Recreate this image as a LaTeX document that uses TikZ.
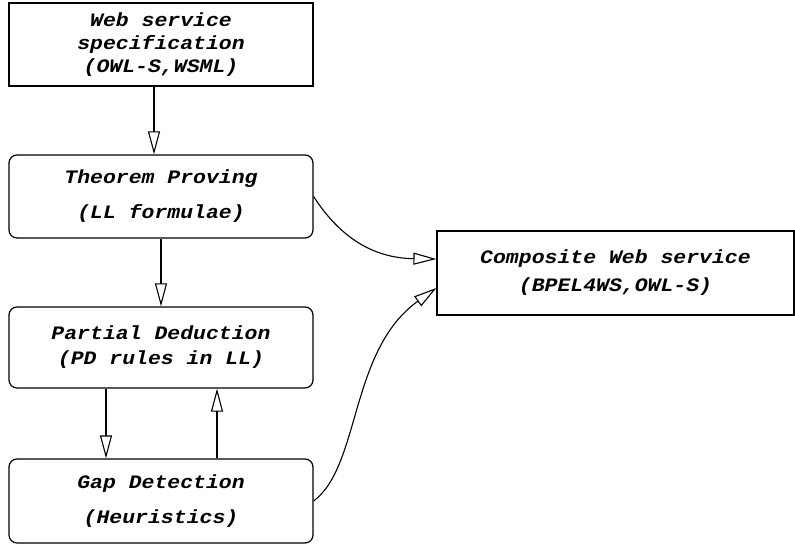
\documentclass[tikz,border=0pt]{standalone}
\usepackage{fontspec}
\newfontfamily\diafont[FakeStretch=1.13]{Liberation Mono}
\usetikzlibrary{arrows.meta}
\begin{document}
\begin{tikzpicture}[x={(1pt,0)},y={(0,-1pt)},
  box/.style={draw,line width=1.2pt,minimum width=304pt,minimum height=83pt,inner sep=0pt,align=center,
    font=\diafont\bfseries\itshape\fontsize{19}{23}\selectfont},
  rbox/.style={box,rounded corners=8pt},
  arr/.style={line width=1.1pt,-{Triangle[open,length=23pt,width=12pt,line width=1.1pt]}}]
\useasboundingbox (0,0) rectangle (795,545);
\node[box] (b1) at (161,44.5) {Web service\\specification\\(OWL-S,WSML)};
\node[rbox] (b2) at (161,196.5) {Theorem Proving\\[12pt](LL formulae)};
\node[rbox,minimum height=81pt] (b3) at (161,347.5) {Partial Deduction\\[2pt](PD rules in LL)};
\node[rbox,minimum height=84pt] (b4) at (161,501) {Gap Detection\\[12pt](Heuristics)};
\node[box,minimum width=357pt,minimum height=84pt] (b5) at (615.5,273) {Composite Web service\\[5pt](BPEL4WS,OWL-S)};
\draw[arr] ([xshift=-7pt]b1.south) -- ([xshift=-7pt]b2.north);
\draw[arr] (b2.south) -- (b3.north);
\draw[arr] ([xshift=-55pt]b3.south) -- ([xshift=-55pt]b4.north);
\draw[arr] ([xshift=56pt]b4.north) -- ([xshift=56pt]b3.south);
\draw[arr] (b2.east) .. controls +(20,31) and +(-72,-1) .. ([yshift=14pt]b5.west);
\draw[arr] (b4.east) .. controls +(47,-35) and +(-87,62) .. ([yshift=-15pt]b5.west);
\end{tikzpicture}
\end{document}
